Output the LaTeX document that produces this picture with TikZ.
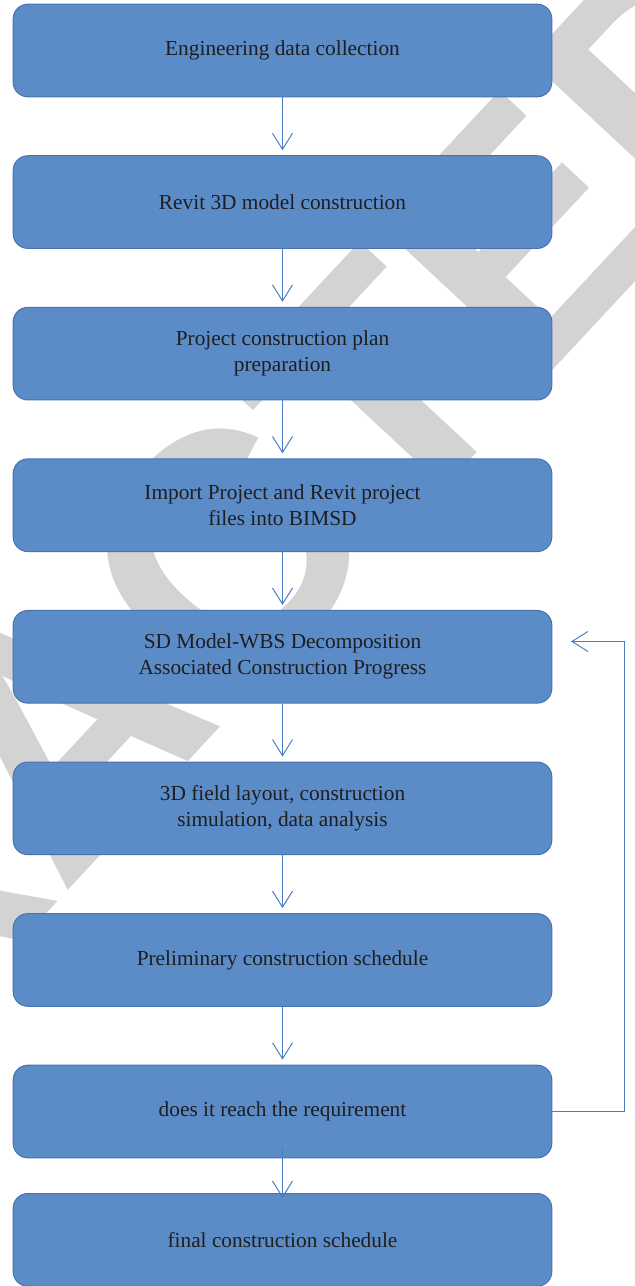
\documentclass[tikz,border=0pt]{standalone}
\usepackage{fontspec}
\setmainfont{Liberation Serif}
\newfontfamily\stampfont{Liberation Sans}
\usepackage{tikz}
\usetikzlibrary{arrows.meta,positioning}
\definecolor{boxfill}{HTML}{5C8CC8}
\definecolor{boxedge}{HTML}{4673B0}
\definecolor{flowline}{HTML}{4A7EBE}
\definecolor{stamp}{HTML}{D3D3D3}
\definecolor{ink}{HTML}{1E1E1E}
\tikzset{
  stepbox/.style={draw=boxedge,fill=boxfill,line width=.75pt,rounded corners=11pt,
    minimum width=404pt,minimum height=69.5pt,inner sep=0pt,align=center,
    text=ink,font=\fontsize{16}{19.5}\selectfont},
  flow/.style={-{Straight Barb[length=12pt,width=15pt]},draw=flowline,line width=.75pt},
  stampmark/.style={text=stamp,rotate=47,font=\stampfont\bfseries\fontsize{250}{250}\selectfont}
}
\begin{document}
\begin{tikzpicture}[x=.75pt,y=-.75pt]
  \useasboundingbox (0,0) rectangle (635,1286);
  \node[stampmark] (mark) at (61,730) {RETRACTED};
  \node[stepbox] (collect) at (282.5,50.5) {Engineering data collection};
  \node[stepbox,below=43.43pt of collect] (revit) {Revit 3D model construction};
  \node[stepbox,below=43.43pt of revit] (plan) {Project construction plan\\preparation};
  \node[stepbox,below=43.43pt of plan] (import) {Import Project and Revit project\\files into BIMSD};
  \node[stepbox,below=43.43pt of import] (wbs) {SD Model-WBS Decomposition\\Associated Construction Progress};
  \node[stepbox,below=43.43pt of wbs] (layout) {3D field layout, construction\\simulation, data analysis};
  \node[stepbox,below=43.43pt of layout] (prelim) {Preliminary construction schedule};
  \node[stepbox,below=43.43pt of prelim] (check) {does it reach the requirement};
  \node[stepbox,below=26pt of check] (final) {final construction schedule};
  \foreach \a/\b in {collect/revit,revit/plan,plan/import,import/wbs,wbs/layout,layout/prelim,prelim/check}
    \draw[flow,shorten >=3.75pt] (\a.south) -- (\b.north);
  \draw[flow] ([yshift=7.5pt]check.south) -- ([yshift=-3.75pt]final.north);
  % loop back when the requirement is not met
  \draw[flow] (check.east) -- ++(54pt,0pt) |- ([xshift=14pt,yshift=11.5pt]wbs.east);
\end{tikzpicture}
\end{document}
